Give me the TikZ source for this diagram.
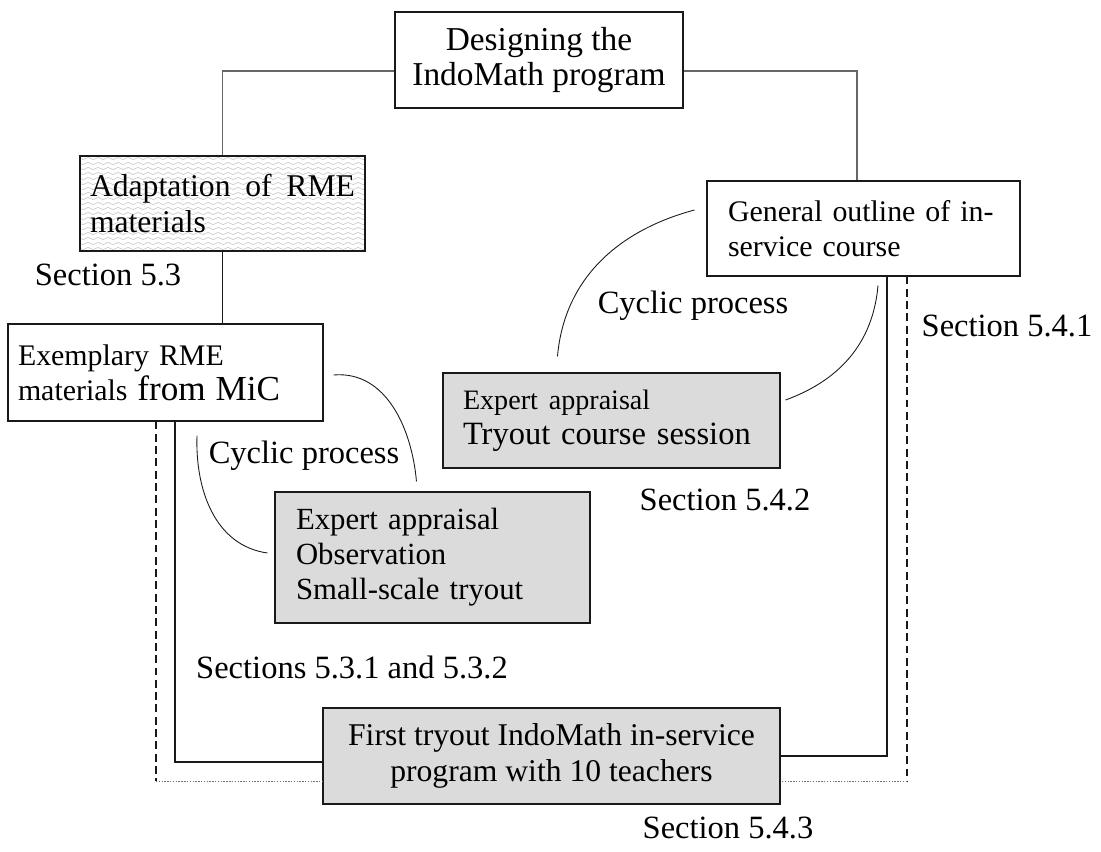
\documentclass[tikz,border=0pt]{standalone}
\usepackage{fontspec}
\setmainfont{Liberation Serif}
\usetikzlibrary{positioning,calc,decorations.pathmorphing}

\begin{document}
\begin{tikzpicture}[
  box/.style={draw=cbox,line width=0.6pt,inner xsep=0.2cm,inner ysep=0pt,
    font=\fontsize{18}{20}\selectfont},
  graybox/.style={box,fill=cfill},
  wavebox/.style={box,path picture={
    \foreach \k in {0,...,19}
      \draw[cwave,line width=0.4pt,decorate,
        decoration={snake,amplitude=0.022cm,segment length=0.2cm}]
        ($(path picture bounding box.north west)+(-0.1,-0.05-\k*0.1)$) -- ++(6.2,0);
  }},
  lbl/.style={inner sep=0pt,font=\fontsize{18.5}{20}\selectfont},
  toplink/.style={draw=ctop,line width=0.6pt},
  link/.style={draw=cline,line width=0.6pt},
  dashlink/.style={draw=cline,line width=0.6pt,dash pattern=on 4.5pt off 2.5pt},
  dotlink/.style={draw=cdot,line width=0.5pt,dash pattern=on 0.8pt off 0.8pt},
  cyc/.style={draw=cline,line width=0.5pt}
]
%
\useasboundingbox (0,0) rectangle (22.02cm,17.02cm);
%
\definecolor{cbox}{rgb}{0.1,0.1,0.1}
\definecolor{cfill}{rgb}{0.86,0.86,0.86}
\definecolor{cwave}{rgb}{0.8,0.8,0.8}
\definecolor{ctop}{rgb}{0.4,0.4,0.4}
\definecolor{cline}{rgb}{0.1,0.1,0.1}
\definecolor{cdot}{rgb}{0.45,0.45,0.45}
%
\node[box,minimum width=5.76cm,minimum height=1.92cm,align=center,
  font=\fontsize{19}{20}\selectfont] (design) at (10.78,15.82) {Designing the\\IndoMath program};
\node[wavebox,text width=5.30cm,minimum height=1.90cm,align=left] (adapt) at (4.45,12.95)
  {Adaptation\hfill of\hfill RME\\materials};
\node[box,text width=5.90cm,minimum height=1.94cm,align=left,
  font=\fontsize{17}{20}\selectfont] (exemp) at (3.31,9.57)
  {Exemplary RME\\materials {\fontsize{20}{20}\selectfont from MiC}};
\node[box,inner xsep=0.42cm,text width=5.42cm,minimum height=1.90cm,align=left,
  font=\fontsize{17}{20}\selectfont] (general) at (17.27,12.45)
  {General outline of in-\\service course};
\node[graybox,inner xsep=0.4cm,text width=5.94cm,minimum height=1.90cm,align=left,
  font=\fontsize{18.5}{20}\selectfont] (tryout) at (12.23,8.61)
  {{\fontsize{16}{20}\selectfont Expert appraisal}\\Tryout course session};
\node[graybox,inner xsep=0.42cm,text width=5.46cm,minimum height=2.62cm,align=left,
  font=\fontsize{17.5}{20}\selectfont] (small) at (8.65,5.87)
  {Expert appraisal\\Observation\\Small-scale tryout};
\node[graybox,minimum width=9.14cm,minimum height=1.92cm,align=center] (first) at (11.03,1.90)
  {First tryout IndoMath in-service\\program with 10 teachers};
%
\node[lbl] (sec53) at (2.16,11.52) {Section 5.3};
\node[lbl] (sec541) at (20.14,10.50) {Section 5.4.1};
\node[lbl] (cycright) at (13.86,10.90) {Cyclic process};
\node[lbl] (sec542) at (14.50,7.02) {Section 5.4.2};
\node[lbl] (cycleft) at (6.08,7.90) {Cyclic process};
\node[lbl] (sec53x) at (7.04,3.68) {Sections 5.3.1 and 5.3.2};
\node[lbl] (sec543) at (14.56,0.46) {Section 5.4.3};
%
\draw[toplink] ([yshift=-0.22cm]design.west) -| (adapt.north);
\draw[toplink] ([yshift=-0.22cm]design.east) -| ([xshift=-0.13cm]general.north);
\draw[link] (adapt.south) -- (adapt.south |- exemp.north);
%
\coordinate (sL) at (3.50,1.78);
\coordinate (sR) at (17.74,1.90);
\coordinate (dL) at (3.12,1.40);
\coordinate (dR) at (18.14,1.40);
\draw[link] (exemp.south -| sL) -- (sL) -- (first.west |- sL);
\draw[link] (general.south -| sR) -- (sR) -- (first.east |- sR);
\draw[dashlink] (exemp.south -| dL) -- (dL);
\draw[dotlink] (dL) -- (first.west |- dL);
\draw[dashlink] (general.south -| dR) -- (dR);
\draw[dotlink] (dR) -- (first.east |- dR);
%
\draw[cyc] ([shift={(-0.24,0.37)}]general.west) to[out=195,in=85] ([shift={(2.30,0.32)}]tryout.north west);
\draw[cyc] ([shift={(0.29,-0.18)}]general.south) to[out=-95,in=20] ([shift={(0.10,0.41)}]tryout.east);
\draw[cyc] ([shift={(0.20,-0.05)}]exemp.east) to[out=5,in=95] ([shift={(2.84,0.20)}]small.north west);
\draw[cyc] ([shift={(0.63,-0.28)}]exemp.south) to[out=-92,in=172] ([shift={(-0.14,0.09)}]small.west);
%
\end{tikzpicture}
\end{document}
